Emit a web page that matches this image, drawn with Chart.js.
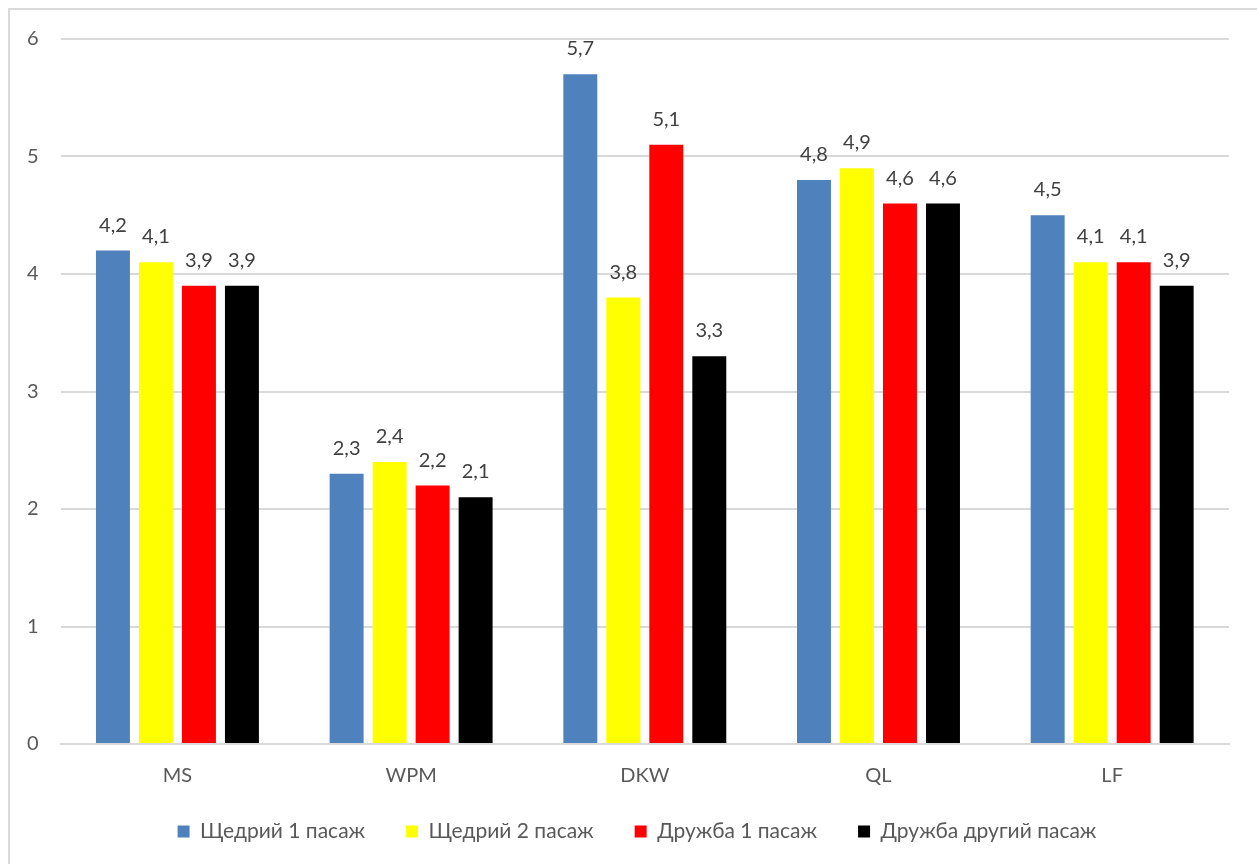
<!DOCTYPE html>
<html>
<head>
<meta charset="utf-8">
<script src="https://cdn.jsdelivr.net/npm/chart.js@4/dist/chart.umd.min.js"></script>
<style>
  html, body { margin: 0; padding: 0; background: #fff; overflow: hidden; }
  #frame {
    position: absolute; left: 8px; top: 8px; width: 1270px; height: 880px;
    border: 2px solid #d9d9d9; box-sizing: border-box;
  }
  #wrap { position: absolute; left: 0; top: 0; width: 1257px; height: 864px; }
</style>
</head>
<body>
<div id="frame"></div>
<div id="wrap"><canvas id="myChart"></canvas></div>
<script>
// categories and series
const categories = ['MS', 'WPM', 'DKW', 'QL', 'LF'];
const shchedryi1 = [4.2, 2.3, 5.7, 4.8, 4.5];
const shchedryi2 = [4.1, 2.4, 3.8, 4.9, 4.1];
const druzhba1 = [3.9, 2.2, 5.1, 4.6, 4.1];
const druzhba2 = [3.9, 2.1, 3.3, 4.6, 3.9];
const yTicks = [0, 1, 2, 3, 4, 5, 6];

const textColor = '#595959';
const fontFamily = 'Lato, "Open Sans", sans-serif';

// value labels above each bar, comma as decimal mark
const barLabels = {
  id: 'barLabels',
  afterDatasetsDraw(chart) {
    const ctx = chart.ctx;
    ctx.save();
    ctx.fillStyle = '#404040';
    ctx.font = '20px ' + fontFamily;
    ctx.textAlign = 'center';
    ctx.textBaseline = 'alphabetic';
    chart.data.datasets.forEach(function(ds, i) {
      chart.getDatasetMeta(i).data.forEach(function(bar, j) {
        const txt = ds.data[j].toFixed(1).replace('.', ',');
        ctx.fillText(txt, bar.x, bar.y - 19);
      });
    });
    ctx.restore();
  }
};

// legend keeps wide spacing between items but sits closer to the axis
const legendGap = 28;
const legendOffsetX = 20;
const legendShift = {
  id: 'legendShift',
  beforeInit(chart) {
    const legend = chart.legend;
    const fit = legend.fit;
    legend.fit = function() { fit.call(this); this.height -= legendGap; };
    const draw = legend.draw;
    legend.draw = function() {
      this.top -= legendGap;
      this.left += legendOffsetX;
      this.right += legendOffsetX;
      draw.call(this);
      this.top += legendGap;
      this.left -= legendOffsetX;
      this.right -= legendOffsetX;
    };
  }
};

const data = {
  labels: categories,
  datasets: [
    { label: 'Щедрий 1 пасаж', data: shchedryi1, backgroundColor: '#4f81bd' },
    { label: 'Щедрий 2 пасаж', data: shchedryi2, backgroundColor: '#ffff00' },
    { label: 'Дружба 1 пасаж', data: druzhba1, backgroundColor: '#ff0000' },
    { label: 'Дружба другий пасаж', data: druzhba2, backgroundColor: '#000000' }
  ]
};

const config = {
  type: 'bar',
  data,
  options: {
    responsive: true,
    maintainAspectRatio: false,
    animation: false,
    categoryPercentage: 0.736,
    barPercentage: 0.79,
    layout: { padding: { left: 5, right: 28, top: 39, bottom: 12 } },
    plugins: {
      legend: {
        position: 'bottom',
        labels: {
          color: textColor,
          font: { family: fontFamily, size: 21 },
          boxWidth: 12,
          boxHeight: 12,
          padding: 41
        }
      },
      tooltip: { enabled: false }
    },
    scales: {
      x: {
        grid: { display: false, drawTicks: false },
        border: { color: '#d9d9d9', width: 2 },
        ticks: { color: textColor, font: { family: fontFamily, size: 20 }, padding: 20 }
      },
      y: {
        min: 0,
        max: 6,
        afterBuildTicks(axis) { axis.ticks = yTicks.map(v => ({ value: v })); },
        grid: { color: '#d9d9d9', lineWidth: 2, drawTicks: false },
        border: { display: false },
        ticks: { color: textColor, font: { family: fontFamily, size: 20 }, padding: 22 }
      }
    }
  },
  plugins: [barLabels, legendShift]
};

const myChart = new Chart(document.getElementById('myChart'), config);
</script>
</body>
</html>
